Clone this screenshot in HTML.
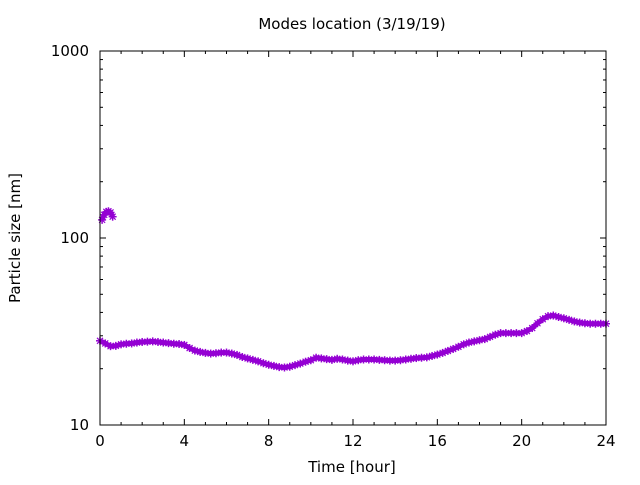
<!DOCTYPE html>
<html><head><meta charset="utf-8"><style>
body{margin:0;background:#fff}
svg text{font-family:"DejaVu Sans","Liberation Sans",sans-serif;font-size:15px;fill:#000}
</style></head><body>
<svg id="chart" width="640" height="480" xmlns="http://www.w3.org/2000/svg">
<text x="352" y="29" text-anchor="middle">Modes location (3/19/19)</text>
<text x="352" y="472" text-anchor="middle">Time [hour]</text>
<text transform="translate(20,238) rotate(-90)" text-anchor="middle">Particle size [nm]</text>
<g id="axes"></g>
<g id="marks"></g>
<rect x="100" y="51" width="506" height="374" fill="none" stroke="#000" stroke-width="1"/>
</svg>
<script>
const xTicks=[0,4,8,12,16,20,24];
const yTicks=[10,100,1000];
const mode1Hours=[0,0.25,0.5,0.75,1,1.25,1.5,1.75,2,2.25,2.5,2.75,3,3.25,3.5,3.75,4,4.25,4.5,4.75,5,5.25,5.5,5.75,6,6.25,6.5,6.75,7,7.25,7.5,7.75,8,8.25,8.5,8.75,9,9.25,9.5,9.75,10,10.25,10.5,10.75,11,11.25,11.5,11.75,12,12.25,12.5,12.75,13,13.25,13.5,13.75,14,14.25,14.5,14.75,15,15.25,15.5,15.75,16,16.25,16.5,16.75,17,17.25,17.5,17.75,18,18.25,18.5,18.75,19,19.25,19.5,19.75,20,20.25,20.5,20.75,21,21.25,21.5,21.75,22,22.25,22.5,22.75,23,23.25,23.5,23.75,24];
const mode1Sizes=[28.2,27.3,26.4,26.5,27.0,27.2,27.3,27.6,27.8,27.9,28.0,27.8,27.6,27.4,27.2,27.1,26.8,25.8,25.0,24.6,24.3,24.1,24.2,24.4,24.4,24.1,23.7,23.1,22.7,22.3,21.9,21.4,21.0,20.7,20.4,20.3,20.5,20.9,21.3,21.8,22.2,22.9,22.7,22.5,22.3,22.6,22.4,22.1,21.9,22.2,22.4,22.4,22.4,22.3,22.2,22.1,22.1,22.2,22.4,22.6,22.8,22.9,23.0,23.4,23.8,24.3,24.9,25.5,26.2,27.0,27.6,28.0,28.4,28.8,29.6,30.4,31.0,31.0,31.0,31.0,31.0,31.8,33.0,35.0,36.8,38.2,38.5,37.8,37.2,36.5,35.8,35.3,35.0,34.8,34.8,34.8,34.8];
const mode2Hours=[0.1,0.2,0.3,0.4,0.5,0.6];
const mode2Sizes=[125,133,138,139,137,130];
const NS="http://www.w3.org/2000/svg";
const X0=100,X1=606,Y0=425,Y1=51;
function xs(h){return X0+(h-0)/(24-0)*(X1-X0);}
function ys(v){return Y0-(Math.log10(v)-1)/2*(Y0-Y1);}
const axes=document.getElementById('axes'),marks=document.getElementById('marks');
function line(p,x1,y1,x2,y2,c,w){const l=document.createElementNS(NS,'line');l.setAttribute('x1',x1);l.setAttribute('y1',y1);l.setAttribute('x2',x2);l.setAttribute('y2',y2);l.setAttribute('stroke',c);l.setAttribute('stroke-width',w);p.appendChild(l);return l;}
function txt(s,x,y,a){const t=document.createElementNS(NS,'text');t.setAttribute('x',x);t.setAttribute('y',y);t.setAttribute('text-anchor',a);t.textContent=s;axes.appendChild(t);return t;}
for(let h=0;h<=24;h++){const x=xs(h);const L=h%4===0?6:3;
 const a=line(axes,x,Y0,x,Y0-L,'#000',1);
 
 
 line(axes,x,Y1,x,Y1+L,'#000',1);}
xTicks.forEach(h=>{const t=txt(String(h),xs(h),446,'middle');
 
 });
for(let d=1;d<=2;d++){for(let m=1;m<=10;m++){const v=Math.pow(10,d)*m;if(v>1000)break;const y=ys(v);const L=m===1?6:3;
 line(axes,X0,y,X0+L,y,'#000',1);line(axes,X1,y,X1-L,y,'#000',1);}}
line(axes,X0,ys(1000),X0+6,ys(1000),'#000',1);line(axes,X1,ys(1000),X1-6,ys(1000),'#000',1);
yTicks.forEach(v=>{const t=txt(String(v),89,ys(v)+5,'end');
 
 });
const C='#9400d3';
function series(H,S,name){
 let d='';H.forEach((h,i)=>{d+=(i?'L':'M')+xs(h).toFixed(1)+' '+ys(S[i]).toFixed(1);});
 const p=document.createElementNS(NS,'path');p.setAttribute('d',d);p.setAttribute('fill','none');p.setAttribute('stroke',C);p.setAttribute('stroke-width','5');p.setAttribute('stroke-linejoin','round');
 
 
 marks.appendChild(p);
 H.forEach((h,i)=>{const x=xs(h),y=ys(S[i]);const g=document.createElementNS(NS,'g');
  
  
  line(g,x-4,y,x+4,y,C,1.5);line(g,x,y-4,x,y+4,C,1.5);line(g,x-3,y-3,x+3,y+3,C,1.2);line(g,x-3,y+3,x+3,y-3,C,1.2);
  marks.appendChild(g);});
}
series(mode1Hours,mode1Sizes,'mode1');
series(mode2Hours,mode2Sizes,'mode2');
</script>
</body></html>
